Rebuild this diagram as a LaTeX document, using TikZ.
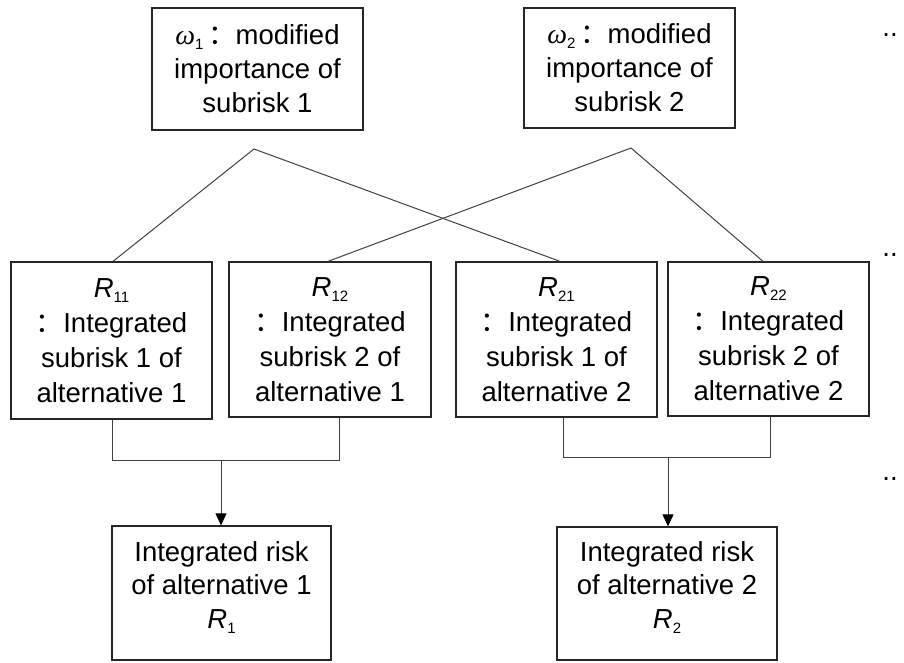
\documentclass[tikz,border=0pt]{standalone}
\usepackage{fontspec}
\setmainfont{Liberation Sans}
\newfontfamily\cjkfont{Noto Sans CJK SC}
\newfontfamily\grfont{Liberation Serif}
\usetikzlibrary{arrows.meta,calc}
\newcommand{\fcolon}{{\cjkfont ：}}
\newcommand{\sbs}[1]{\raisebox{-0.35ex}{\fontsize{15}{15}\selectfont #1}}
\newcommand{\itR}[1]{\textit{R}\sbs{#1}}
\newcommand{\omg}[1]{{\grfont\itshape\fontsize{28}{28}\selectfont ω}\sbs{#1}}
\begin{document}
\begin{tikzpicture}[x=1pt,y=-1pt,
  box/.style={draw=black!85,line width=1.3pt,inner sep=0pt,align=center,font=\fontsize{27.5}{34}\selectfont},
  midbox/.style={box,font=\fontsize{27.5}{35}\selectfont},
  conn/.style={draw=black!75,line width=1pt},
  arr/.style={conn,-{Triangle[length=12pt,width=11pt,fill=black,color=black]}},
  txt/.style={inner sep=0pt,align=center,font=\fontsize{27.5}{33.5}\selectfont}]
\useasboundingbox (0,0) rectangle (904,662);
% top boxes
\node[box,minimum width=211pt,minimum height=122pt] (w1) at (257.5,69)
  {\omg{1}\,\fcolon modified\\importance of\\subrisk 1};
\node[box,minimum width=211pt,minimum height=120pt] (w2) at (629.5,68)
  {\omg{2}\,\fcolon modified\\importance of\\subrisk 2};
% middle boxes
\node[midbox,minimum width=201pt,minimum height=157pt] (r11) at (111.5,340.5)
  {\itR{11}\\\fcolon Integrated\\subrisk 1 of\\alternative 1};
\node[midbox,minimum width=202pt,minimum height=155pt] (r12) at (330,339.5)
  {\itR{12}\\\fcolon Integrated\\subrisk 2 of\\alternative 1};
\node[midbox,minimum width=201pt,minimum height=155pt] (r21) at (556.5,339.5)
  {\itR{21}\\\fcolon Integrated\\subrisk 1 of\\alternative 2};
\node[midbox,minimum width=201pt,minimum height=154pt] (r22) at (768.5,339)
  {\itR{22}\\\fcolon Integrated\\subrisk 2 of\\alternative 2};
% bottom boxes
\node[box,minimum width=219pt,minimum height=134pt] (b1) at (221.5,593) {};
\node[txt,anchor=north] (t1) at (221.5,541) {Integrated risk\\of alternative 1\\\itR{1}};
\node[box,minimum width=220pt,minimum height=133pt] (b2) at (667,593.5) {};
\node[txt,anchor=north] (t2) at (667,541) {Integrated risk\\of alternative 2\\\itR{2}};
% dots
\node[txt] (d1) at (890,35) {..};
\node[txt] (d2) at (890,255) {..};
\node[txt] (d3) at (890,479) {..};
% apexes
\coordinate (a1) at (254,149);
\coordinate (a2) at (631,148);
\draw[conn] ([xshift=1.5pt]r11.north) -- (a1) -- ([xshift=3.5pt]r21.north);
\draw[conn] ([xshift=-2pt]r12.north) -- (a2) -- ([xshift=-5.5pt]r22.north);
% brackets
\coordinate (j1) at (221,460);
\coordinate (j2) at (668,457);
\draw[conn] ([xshift=0.5pt]r11.south) -- ([xshift=0.5pt]r11.south |- j1) -- ([xshift=9pt]r12.south |- j1) -- ([xshift=9pt]r12.south);
\draw[arr] (j1) -- (j1 |- b1.north);
\draw[conn] ([xshift=6.5pt]r21.south) -- ([xshift=6.5pt]r21.south |- j2) -- ([xshift=1.5pt]r22.south |- j2) -- ([xshift=1.5pt]r22.south);
\draw[arr] (j2) -- (j2 |- b2.north);
\end{tikzpicture}
\end{document}
